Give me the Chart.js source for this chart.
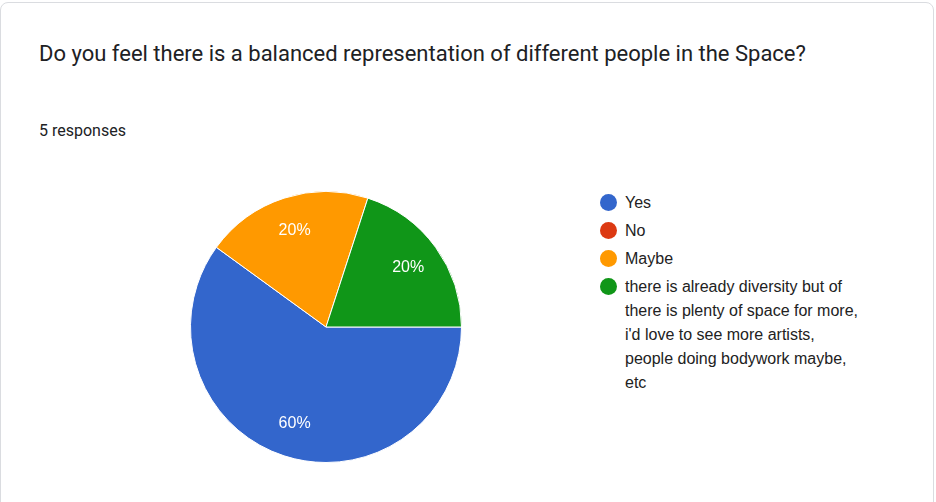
<!doctype html>
<html lang="en">
  <head>
    <meta charset="UTF-8" />
    <title>Balanced representation</title>
    <script src="https://cdn.jsdelivr.net/npm/chart.js"></script>
    <style>
      body { margin: 0; background: #fff; font-family: "Liberation Sans", Arial, sans-serif; }
      .card { position: absolute; left: 0; top: 2px; width: 932px; height: 520px;
        border: 1px solid #dadce0; border-radius: 8px; background: #fff; }
      h1 { position: absolute; left: 38px; top: 32px; margin: 0; width: 800px;
        font-family: Roboto, Arial, sans-serif;
        font-size: 22px; font-weight: 400; line-height: 38px; color: #202124; }
      .resp { position: absolute; left: 38px; top: 118px; font-size: 16px; color: #202124;
        font-family: Roboto, Arial, sans-serif; }
      #legend { position: absolute; left: 598px; top: 188px; width: 268px;
        font-size: 16px; color: #222; line-height: 24px; }
      .item { position: relative; padding-left: 26px; margin-bottom: 4px; }
      .dot { position: absolute; left: 1px; top: 3px; width: 17px; height: 17px; border-radius: 50%; }
    </style>
  </head>
  <body>
    <div class="card">
      <h1>Do you feel there is a balanced representation of different people in the Space?</h1>
      <div class="resp">5 responses</div>
      <div style="position: absolute; left: 189px; top: 188px; width: 272px; height: 272px">
        <canvas id="pieChart"></canvas>
      </div>
      <div id="legend"></div>
    </div>
    <script>
      var labels = ["Yes", "No", "Maybe",
        "there is already diversity but of there is plenty of space for more, i'd love to see more artists, people doing bodywork maybe, etc"];
      var counts = [3, 0, 1, 1];
      var colors = ["#3366cc", "#dc3912", "#ff9900", "#109618"];

      var legend = document.getElementById("legend");
      labels.forEach(function (l, i) {
        var d = document.createElement("div");
        d.className = "item";
        d.innerHTML = '<span class="dot" style="background:' + colors[i] + '"></span>';
        d.appendChild(document.createTextNode(l));
        legend.appendChild(d);
      });

      // percentage labels inside slices
      var pctLabels = {
        id: "pctLabels",
        afterDatasetsDraw: function (chart) {
          var ctx = chart.ctx;
          var total = counts.reduce(function (a, b) { return a + b; }, 0);
          chart.getDatasetMeta(0).data.forEach(function (arc, i) {
            if (!counts[i]) return;
            var p = arc.getProps(["x", "y", "startAngle", "endAngle", "outerRadius"], true);
            var mid = (p.startAngle + p.endAngle) / 2;
            var r = p.outerRadius * 0.75;
            ctx.save();
            ctx.fillStyle = "#fff";
            ctx.font = "16px 'Liberation Sans', Arial, sans-serif";
            ctx.textAlign = "center";
            ctx.textBaseline = "middle";
            ctx.fillText(Math.round((counts[i] / total) * 100) + "%",
              p.x + Math.cos(mid) * r, p.y + Math.sin(mid) * r);
            ctx.restore();
          });
        },
      };

      var ctx1 = document.getElementById("pieChart").getContext("2d");
      var pieChart = new Chart(ctx1, {
        type: "pie",
        data: {
          labels: labels,
          datasets: [{ data: counts, backgroundColor: colors, borderColor: "#fff", borderWidth: 1 }],
        },
        options: {
          responsive: true,
          maintainAspectRatio: false,
          animation: false,
          rotation: 90,
          plugins: { legend: { display: false }, tooltip: { enabled: false } },
        },
        plugins: [pctLabels],
      });
    </script>
  </body>
</html>
